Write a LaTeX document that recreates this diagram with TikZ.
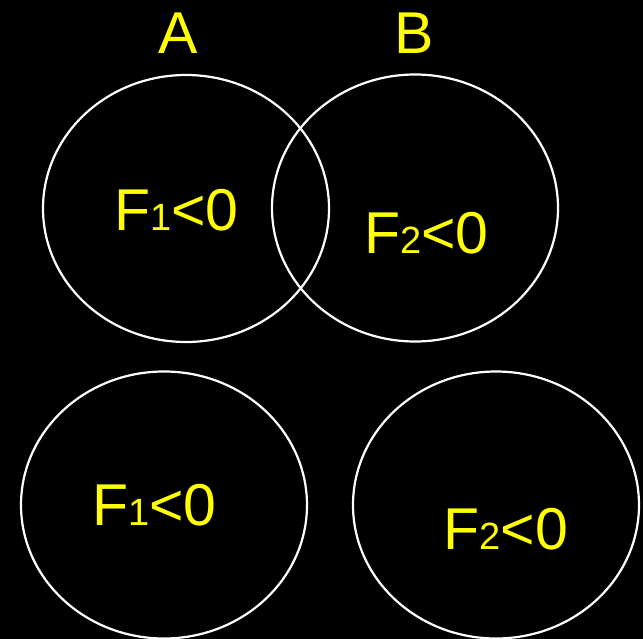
\documentclass[tikz,border=0pt]{standalone}
\usepackage{fontspec}
\setmainfont{Liberation Sans}
\usetikzlibrary{shapes.geometric}
\definecolor{labtext}{RGB}{255,255,0}
\newcommand{\bigsans}{\fontsize{59}{59}\selectfont}
\newcommand{\subdig}[1]{{\fontsize{38}{38}\selectfont #1}}
\tikzset{
  region/.style={draw=white, line width=2.2pt, ellipse, inner sep=0pt,
                 minimum width=286pt, minimum height=267pt},
  lbl/.style={text=labtext, font=\bigsans, inner sep=0pt, anchor=base},
}

\begin{document}
\begin{tikzpicture}[x=1pt, y=-1pt]
  \fill[black] (0,0) rectangle (643,639);
  \useasboundingbox (0,0) rectangle (643,639);

  % overlapping pair
  \node[region] (ra) at (186,208.5) {};
  \node[region] (rb) at (415,208) {};
  \node[lbl] (na) at (178.5,54) {A};
  \node[lbl] (nb) at (414,54) {B};
  \node[lbl] (fa) at (176.5,231) {F\subdig{1}<0};
  \node[lbl] (fb) at (426.5,254) {F\subdig{2}<0};

  % separate pair
  \node[region] (rc) at (164,505) {};
  \node[region] (rd) at (496,505) {};
  \node[lbl] (fc) at (154.5,525) {F\subdig{1}<0};
  \node[lbl] (fd) at (506,549) {F\subdig{2}<0};
\end{tikzpicture}
\end{document}
